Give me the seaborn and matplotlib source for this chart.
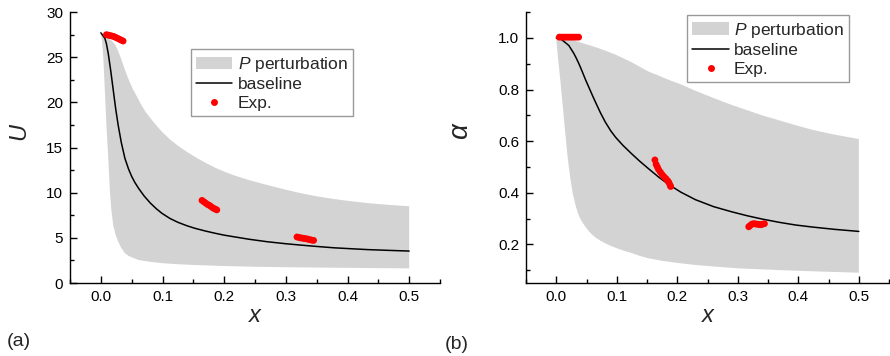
import numpy as np
import matplotlib
matplotlib.use("Agg")
import matplotlib.pyplot as plt
import seaborn as sns
from matplotlib.patches import Patch
from matplotlib.lines import Line2D
from matplotlib.ticker import MultipleLocator

# ---------------- data ----------------
# Panel (a): U
u_up_x = [0, 0.005, 0.012, 0.018, 0.023, 0.028, 0.033, 0.038, 0.044, 0.051, 0.058, 0.065,
          0.072, 0.085, 0.099, 0.112, 0.126, 0.14, 0.153, 0.17, 0.186, 0.2, 0.215, 0.24,
          0.27, 0.3, 0.324, 0.35, 0.378, 0.405, 0.433, 0.465, 0.5]
u_up_y = [27.7, 27.5, 27.1, 26.8, 26.4, 25.7, 24.8, 23.8, 22.7, 21.6, 20.7, 19.8,
          19.0, 17.85, 16.75, 15.9, 15.15, 14.5, 13.95, 13.3, 12.75, 12.33, 11.95, 11.4,
          10.85, 10.33, 9.95, 9.6, 9.3, 9.06, 8.85, 8.66, 8.5]
u_lo_x = [0, 0.002, 0.004, 0.0065, 0.009, 0.012, 0.0147, 0.017, 0.02, 0.024, 0.028, 0.033,
          0.039, 0.045, 0.05, 0.061, 0.07, 0.08, 0.099, 0.125, 0.15, 0.2, 0.25, 0.3, 0.4, 0.5]
u_lo_y = [27.7, 26.8, 24.9, 21.2, 17.5, 13.8, 10.1, 8.1, 6.4, 5.3, 4.6, 3.9,
          3.3, 3.0, 2.85, 2.55, 2.45, 2.35, 2.2, 2.08, 2.0, 1.88, 1.8, 1.75, 1.68, 1.62]
u_base_x = [0, 0.0065, 0.009, 0.012, 0.016, 0.020, 0.024, 0.028, 0.033, 0.039, 0.045, 0.05,
            0.055, 0.061, 0.07, 0.08, 0.09, 0.099, 0.112, 0.125, 0.14, 0.153, 0.17, 0.186,
            0.2, 0.215, 0.24, 0.27, 0.3, 0.324, 0.35, 0.378, 0.405, 0.433, 0.465, 0.5]
u_base_y = [27.7, 27.1, 26.5, 25.4, 23.5, 21.4, 19.3, 17.5, 15.6, 13.8, 12.6, 11.8,
            11.15, 10.5, 9.65, 8.87, 8.22, 7.72, 7.15, 6.72, 6.33, 6.05, 5.75, 5.5,
            5.3, 5.13, 4.85, 4.57, 4.35, 4.2, 4.05, 3.9, 3.8, 3.7, 3.62, 3.54]
u_exp_x = [0.009, 0.012, 0.015, 0.018, 0.021, 0.024, 0.027, 0.030, 0.033, 0.036,
           0.164, 0.167, 0.170, 0.173, 0.176, 0.179, 0.182, 0.185, 0.188,
           0.318, 0.321, 0.324, 0.327, 0.330, 0.333, 0.336, 0.339, 0.342, 0.345]
u_exp_y = [27.5, 27.45, 27.4, 27.35, 27.3, 27.2, 27.1, 27.0, 26.9, 26.8,
           9.15, 9.0, 8.85, 8.7, 8.6, 8.45, 8.3, 8.2, 8.1,
           5.1, 5.05, 5.0, 4.97, 4.93, 4.9, 4.85, 4.8, 4.75, 4.72]

# Panel (b): alpha
a_up_x = [0, 0.01, 0.02, 0.03, 0.043, 0.056, 0.07, 0.084, 0.098, 0.11, 0.125, 0.138,
          0.152, 0.166, 0.18, 0.193, 0.206, 0.23, 0.26, 0.29, 0.315, 0.34, 0.369, 0.395,
          0.423, 0.46, 0.5]
a_up_y = [1.0, 0.999, 0.995, 0.99, 0.98, 0.971, 0.96, 0.948, 0.935, 0.922, 0.905, 0.888,
          0.87, 0.857, 0.843, 0.831, 0.82, 0.795, 0.767, 0.74, 0.72, 0.7, 0.68, 0.662,
          0.644, 0.625, 0.608]
a_lo_x = [0, 0.001, 0.003, 0.005, 0.007, 0.011, 0.015, 0.019, 0.023, 0.027, 0.032, 0.035,
          0.038, 0.042, 0.046, 0.05, 0.054, 0.06, 0.065, 0.073, 0.081, 0.09, 0.1, 0.112,
          0.125, 0.138, 0.152, 0.175, 0.2, 0.23, 0.26, 0.3, 0.34, 0.369, 0.43, 0.5]
a_lo_y = [1.0, 0.97, 0.92, 0.875, 0.83, 0.73, 0.63, 0.534, 0.46, 0.40, 0.35, 0.327,
          0.307, 0.29, 0.275, 0.262, 0.25, 0.236, 0.226, 0.214, 0.204, 0.194, 0.185, 0.175,
          0.166, 0.155, 0.146, 0.136, 0.128, 0.12, 0.114, 0.107, 0.103, 0.10, 0.095, 0.09]
a_base_x = [0, 0.008, 0.016, 0.021, 0.025, 0.029, 0.033, 0.038, 0.043, 0.048, 0.054, 0.06,
            0.066, 0.073, 0.081, 0.09, 0.098, 0.11, 0.125, 0.138, 0.152, 0.17, 0.187, 0.206,
            0.23, 0.26, 0.29, 0.315, 0.34, 0.369, 0.395, 0.423, 0.46, 0.5]
a_base_y = [1.0, 0.995, 0.98, 0.97, 0.955, 0.94, 0.922, 0.897, 0.869, 0.84, 0.808, 0.776,
            0.745, 0.71, 0.674, 0.64, 0.615, 0.584, 0.55, 0.522, 0.494, 0.459, 0.43, 0.402,
            0.373, 0.346, 0.326, 0.311, 0.298, 0.285, 0.275, 0.267, 0.258, 0.25]
a_exp_x = [0.005, 0.0085, 0.012, 0.0155, 0.019, 0.0225, 0.026, 0.0295, 0.033, 0.037,
           0.163, 0.165, 0.167, 0.169, 0.172, 0.175, 0.178, 0.181, 0.184, 0.186, 0.188, 0.189,
           0.318, 0.320, 0.323, 0.326, 0.329, 0.332, 0.335, 0.338, 0.341, 0.344]
a_exp_y = [1.003] * 10 + [0.527, 0.51, 0.50, 0.49, 0.48, 0.47, 0.462, 0.455, 0.447, 0.44, 0.43, 0.424,
           0.268, 0.272, 0.278, 0.28, 0.279, 0.278, 0.277, 0.276, 0.278, 0.28]

legend_labels = ["$P$ perturbation", "baseline", "Exp."]

# ---------------- style ----------------
sns.set_theme(style="ticks")
plt.rcParams["font.family"] = ["Liberation Sans", "DejaVu Sans"]
plt.rcParams["mathtext.fontset"] = "custom"
plt.rcParams["mathtext.it"] = "Liberation Sans:italic"
plt.rcParams["mathtext.rm"] = "Liberation Sans"

BAND = "#d3d3d3"
RED = "#ff0000"

fig = plt.figure(figsize=(8.9, 3.56), dpi=100)
ax1 = fig.add_axes([0.0787, 0.205, 0.4157, 0.761])
ax2 = fig.add_axes([0.591, 0.205, 0.408, 0.761])


def draw(ax, ux, uy, lx, ly, bx, by, ex, ey):
    ax.fill(np.concatenate([ux, lx[::-1]]), np.concatenate([uy, ly[::-1]]),
            color=BAND, lw=0, zorder=1)
    sns.lineplot(x=bx, y=by, ax=ax, color="black", lw=1.1, zorder=3, sort=False)
    sns.scatterplot(x=ex, y=ey, ax=ax, color=RED, s=24, edgecolor="none", zorder=4)
    for s in ["top", "right"]:
        ax.spines[s].set_visible(False)
    for s in ["left", "bottom"]:
        ax.spines[s].set_linewidth(1.0)
        ax.spines[s].set_color("black")
    ax.tick_params(which="major", direction="in", length=5, width=1, labelsize=11,
                   colors="black", pad=5)
    ax.tick_params(which="minor", direction="in", length=2.6, width=1, colors="black")
    ax.set_xlim(-0.05, 0.55)
    ax.xaxis.set_major_locator(MultipleLocator(0.1))
    ax.xaxis.set_minor_locator(MultipleLocator(0.05))
    ax.set_xticks([0, 0.1, 0.2, 0.3, 0.4, 0.5])
    ax.set_xticklabels(["0.0", "0.1", "0.2", "0.3", "0.4", "0.5"])
    ax.set_xlabel("x", fontsize=17, fontstyle="italic", labelpad=0)
    handles = [Patch(facecolor=BAND, edgecolor="none"),
               Line2D([], [], color="black", lw=1.1),
               Line2D([], [], color=RED, marker="o", ls="none", markersize=5,
                      markeredgecolor="none")]
    return handles


h = draw(ax1, np.array(u_up_x), np.array(u_up_y), np.array(u_lo_x), np.array(u_lo_y),
         u_base_x, u_base_y, u_exp_x, u_exp_y)
ax1.set_ylim(0, 30)
ax1.yaxis.set_major_locator(MultipleLocator(5))
ax1.yaxis.set_minor_locator(MultipleLocator(2.5))
ax1.set_ylabel("U", fontsize=17, fontstyle="italic")
ax1.yaxis.set_label_coords(-0.108, 0.56)
leg1 = ax1.legend(h, legend_labels, loc="upper left", bbox_to_anchor=(0.326, 0.862),
                  fontsize=12.5, frameon=True, fancybox=False, edgecolor="#808080",
                  labelspacing=0.2, handlelength=2.1, handletextpad=0.3,
                  borderpad=0.3, borderaxespad=0)
leg1.get_frame().set_linewidth(1.0)

h = draw(ax2, np.array(a_up_x), np.array(a_up_y), np.array(a_lo_x), np.array(a_lo_y),
         a_base_x, a_base_y, a_exp_x, a_exp_y)
ax2.set_ylim(0.05, 1.1)
ax2.yaxis.set_major_locator(MultipleLocator(0.2))
ax2.yaxis.set_minor_locator(MultipleLocator(0.1))
ax2.set_yticks([0.2, 0.4, 0.6, 0.8, 1.0])
ax2.set_yticklabels(["0.2", "0.4", "0.6", "0.8", "1.0"])
ax2.set_ylabel("α", fontsize=20, fontstyle="italic")
ax2.yaxis.set_label_coords(-0.146, 0.56)
leg2 = ax2.legend(h, legend_labels, loc="upper left", bbox_to_anchor=(0.444, 0.988),
                  fontsize=12.5, frameon=True, fancybox=False, edgecolor="#808080",
                  labelspacing=0.2, handlelength=2.1, handletextpad=0.3,
                  borderpad=0.3, borderaxespad=0)
leg2.get_frame().set_linewidth(1.0)

fig.text(0.008, 0.04, "(a)", fontsize=14, ha="left", va="center")
fig.text(0.500, 0.032, "(b)", fontsize=14, ha="left", va="center")

fig.savefig("out.png", dpi=100)
